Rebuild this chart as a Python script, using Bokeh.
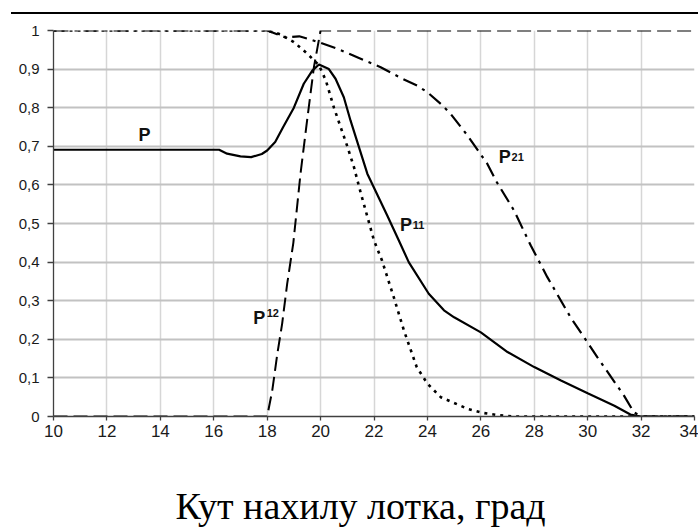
from bokeh.plotting import figure
from bokeh.models import Range1d, FixedTicker, Title, Div
from bokeh.layouts import column
from bokeh.core.properties import value
from bokeh.embed import file_html
from bokeh.resources import INLINE

# ---- data ----
x_ticks = [10, 12, 14, 16, 18, 20, 22, 24, 26, 28, 30, 32, 34]
y_ticks = [0, 0.1, 0.2, 0.3, 0.4, 0.5, 0.6, 0.7, 0.8, 0.9, 1]
y_tick_labels = ["0", "0,1", "0,2", "0,3", "0,4", "0,5", "0,6", "0,7", "0,8", "0,9", "1"]

p_x = [10, 16.2, 16.5, 17.0, 17.4, 17.8, 18.0, 18.3, 18.6, 19.0, 19.37, 19.69, 19.94,
       20.31, 20.56, 20.87, 21.12, 21.75, 22.5, 22.93, 23.3, 24.05, 24.62, 25.0, 26.0,
       27.0, 28.0, 29.0, 30.0, 31.0, 31.6, 32.0, 34.0]
p_y = [0.691, 0.691, 0.681, 0.674, 0.672, 0.68, 0.689, 0.711, 0.75, 0.80, 0.862, 0.896, 0.912,
       0.90, 0.875, 0.827, 0.767, 0.629, 0.52, 0.456, 0.40, 0.318, 0.275, 0.257, 0.218,
       0.167, 0.128, 0.093, 0.06, 0.028, 0.005, 0.0, 0.0]

dot_x = [10, 18.0, 18.5, 19.0, 19.5, 19.94, 20.2, 20.5, 20.75, 21.0, 21.25, 21.5, 22.0,
         22.3, 22.74, 23.12, 23.6, 24.0, 24.5, 25.5, 26.1, 26.6, 27.2, 34]
dot_y = [1.0, 1.0, 0.99, 0.97, 0.94, 0.91, 0.87, 0.80, 0.75, 0.70, 0.646, 0.58, 0.456,
         0.404, 0.309, 0.223, 0.128, 0.085, 0.05, 0.02, 0.009, 0.004, 0.0, 0.0]

p12_x = [10, 18.0, 18.19, 18.38, 18.56, 18.75, 18.98, 19.25, 19.5, 19.75, 20.0, 34]
p12_y = [0, 0, 0.067, 0.162, 0.24, 0.344, 0.45, 0.63, 0.77, 0.905, 1.0, 1.0]

p21_x = [10, 18.0, 18.69, 19.2, 19.56, 20.0, 20.62, 21.06, 21.5, 22.25, 23.06, 23.62, 24.0,
         24.5, 24.87, 25.5, 26.24, 26.6, 27.24, 27.87, 28.49, 29.36, 30.36, 31.36, 31.73,
         32.0, 34]
p21_y = [1.0, 1.0, 0.982, 0.985, 0.978, 0.968, 0.953, 0.94, 0.927, 0.905, 0.875, 0.857, 0.84,
         0.81, 0.784, 0.728, 0.655, 0.607, 0.534, 0.443, 0.361, 0.257, 0.154, 0.054, 0.011,
         0.0, 0.0]

# curve labels: main letter + subscript
lab_x = [13.18, 17.48, 26.67, 22.97]
lab_y = [0.728, 0.254, 0.671, 0.497]
lab_txt = ["P", "P", "P", "P"]
sub_x = [17.98, 27.15, 23.45]
sub_y = [0.269, 0.671, 0.497]
sub_txt = ["12", "21", "11"]

x_title = "Кут нахилу лотка, град"

# ---- top rule ----
rule = Div(text="", width=687, height=2, margin=(12, 0, 0, 11),
           styles={"background-color": "black"})

# ---- figure ----
p = figure(frame_width=641, frame_height=386, output_backend="svg", toolbar_location=None,
           x_range=Range1d(10, 34), y_range=Range1d(0, 1),
           min_border_left=53, min_border_right=4, min_border_top=16, min_border_bottom=0)
p.outline_line_color = None
p.background_fill_color = "white"
p.border_fill_color = "white"

p.xaxis.ticker = FixedTicker(ticks=x_ticks)
p.yaxis.ticker = FixedTicker(ticks=y_ticks)
p.yaxis.major_label_overrides = {t: s for t, s in zip(y_ticks, y_tick_labels)}
for ax in (p.xaxis, p.yaxis):
    ax.axis_line_color = "#404040"
    ax.axis_line_width = 1.3
    ax.major_tick_line_color = "#404040"
    ax.major_tick_line_width = 1.3
    ax.minor_tick_line_color = None
    ax.major_tick_in = 0
    ax.major_label_text_font = "Liberation Sans"
    ax.major_label_text_color = "#1a1a1a"
p.yaxis.major_tick_out = 6
p.yaxis.major_label_standoff = 8
p.yaxis.major_label_text_font_size = "15px"
p.xaxis.major_tick_out = 4
p.xaxis.major_label_standoff = 4
p.xaxis.major_label_text_font_size = "17px"

p.xgrid.ticker = FixedTicker(ticks=x_ticks)
p.ygrid.ticker = FixedTicker(ticks=y_ticks)
p.xgrid.grid_line_color = "#d6d6d6"
p.xgrid.grid_line_width = 1.5
p.ygrid.grid_line_color = "#c2c2c2"
p.ygrid.grid_line_width = 2

# ---- curves ----
p.line(p12_x, p12_y, line_color="black", line_width=2, line_dash="14 6")
p.line(p21_x, p21_y, line_color="black", line_width=2.2, line_dash="15 6 3 6")
p.line(dot_x, dot_y, line_color="black", line_width=2.6, line_dash="3 5")
p.line(p_x, p_y, line_color="black", line_width=2.2)

# ---- labels ----
p.text(lab_x, lab_y, text=lab_txt, text_font=value("Liberation Sans"), text_font_style="bold",
       text_font_size="18px", text_color="#111111", text_baseline="alphabetic", text_align="left")
p.text(sub_x, sub_y, text=sub_txt, text_font=value("Liberation Sans"), text_font_style="bold",
       text_font_size="11px", text_color="#111111", text_baseline="alphabetic", text_align="left")

# x-axis title below, aligned as in the reference
p.add_layout(Title(text=x_title, align="left", offset=122, text_font="Liberation Serif",
                   text_font_size="38px", text_font_style="normal", text_color="black",
                   standoff=86), "below")

layout = column(rule, p, spacing=0)
open("out.html", "w").write(file_html(layout, INLINE))
